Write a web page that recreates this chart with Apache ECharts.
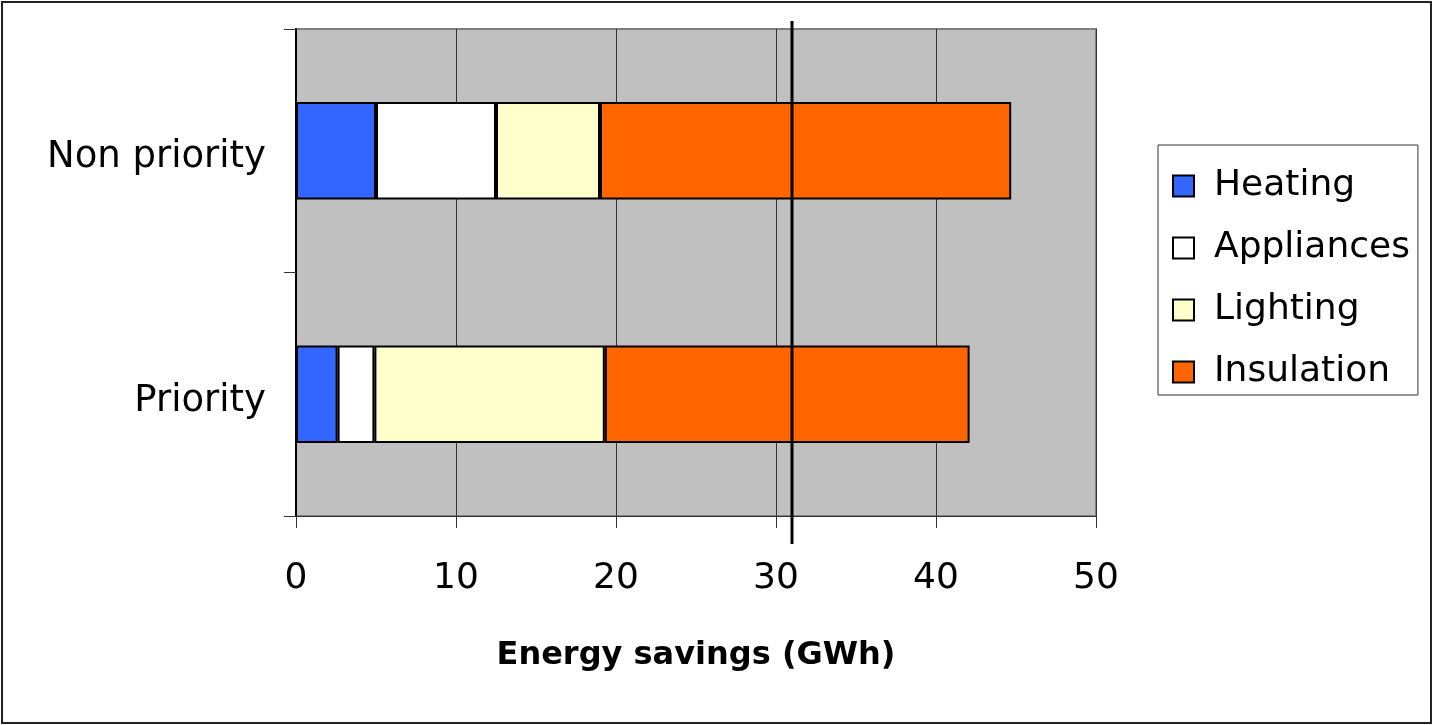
<!DOCTYPE html>
<html>
<head>
<meta charset="utf-8">
<script src="https://cdn.jsdelivr.net/npm/echarts@6/dist/echarts.min.js"></script>
<style>
html,body{margin:0;padding:0;background:#fff;}
#c{width:1433px;height:725px;}
</style>
</head>
<body>
<div id="c"></div>
<script>
const categories = ['Priority', 'Non priority'];
const seriesNames = ['Heating', 'Appliances', 'Lighting', 'Insulation'];
const heating = [2.6, 5.0];
const appliances = [2.3, 7.5];
const lighting = [14.4, 6.5];
const insulation = [22.8, 25.7];
const referenceValue = 31;
const xTicks = [0, 10, 20, 30, 40, 50];
const colors = ['#3366FF', '#FFFFFF', '#FFFFCC', '#FF6600'];

const FONT = 'DejaVu Sans';
const values = [heating, appliances, lighting, insulation];

const chart = echarts.init(document.getElementById('c'), null, {renderer: 'canvas'});

const barSeries = seriesNames.map((n, i) => ({
  name: n,
  type: 'bar',
  stack: 'total',
  xAxisIndex: 0,
  yAxisIndex: 0,
  barCategoryGap: '60%',
  data: values[i],
  itemStyle: {color: colors[i], borderColor: '#000', borderWidth: 2},
  emphasis: {disabled: true},
  animation: false
}));

const option = {
  animation: false,
  textStyle: {fontFamily: FONT},
  graphic: [{
    type: 'rect',
    shape: {x: 2, y: 2, width: 1429, height: 721},
    style: {fill: 'none', stroke: '#222', lineWidth: 2},
    silent: true,
    z: 100
  }],
  grid: [{
    left: 296, right: 337, top: 29, bottom: 209,
    show: true,
    backgroundColor: '#C0C0C0',
    borderColor: '#808080',
    borderWidth: 2
  }, {
    left: 296, right: 337, top: 21, bottom: 181,
    show: false
  }],
  legend: {
    orient: 'vertical',
    left: 1158,
    top: 145,
    padding: [23, 8, 5, 14],
    backgroundColor: '#fff',
    borderColor: '#333',
    borderWidth: 1,
    itemWidth: 21,
    itemHeight: 21,
    itemGap: 26,
    itemTextGap: 5,
    data: seriesNames,
    icon: 'rect',
    itemStyle: {borderColor: '#000', borderWidth: 2},
    textStyle: {fontFamily: FONT, fontSize: 36, color: '#000', padding: [0, 0, 0, 15]},
    selectedMode: false
  },
  xAxis: [{
    type: 'value',
    gridIndex: 0,
    min: 0, max: 50, interval: 10,
    axisLine: {show: true, lineStyle: {color: '#333', width: 1}},
    axisTick: {show: true, length: 12, lineStyle: {color: '#333'}},
    axisLabel: {
      margin: 45, fontSize: 36, color: '#000', fontFamily: FONT,
      formatter: v => xTicks.includes(v) ? String(v) : ''
    },
    splitLine: {show: true, lineStyle: {color: '#333', width: 1}},
    name: 'Energy savings (GWh)',
    nameLocation: 'middle',
    nameGap: 124,
    nameTextStyle: {fontSize: 32, fontWeight: 'bold', color: '#000', fontFamily: FONT}
  }, {
    type: 'value',
    gridIndex: 1,
    min: 0, max: 50,
    show: false
  }],
  yAxis: [{
    type: 'category',
    gridIndex: 0,
    data: categories,
    axisLine: {show: true, lineStyle: {color: '#000', width: 2}},
    axisTick: {show: true, length: 12, lineStyle: {color: '#333'}},
    axisLabel: {margin: 30, fontSize: 37, color: '#000', fontFamily: FONT, verticalAlign: 'top', lineHeight: 14},
    splitLine: {show: false}
  }, {
    type: 'value',
    gridIndex: 1,
    min: 0, max: 1,
    show: false
  }],
  series: barSeries.concat([{
    name: 'reference',
    type: 'line',
    xAxisIndex: 1,
    yAxisIndex: 1,
    data: [[referenceValue, 0], [referenceValue, 1]],
    symbol: 'none',
    clip: false,
    animation: false,
    lineStyle: {color: '#000', width: 3},
    z: 10,
    silent: true
  }])
};

chart.setOption(option);
</script>
</body>
</html>
